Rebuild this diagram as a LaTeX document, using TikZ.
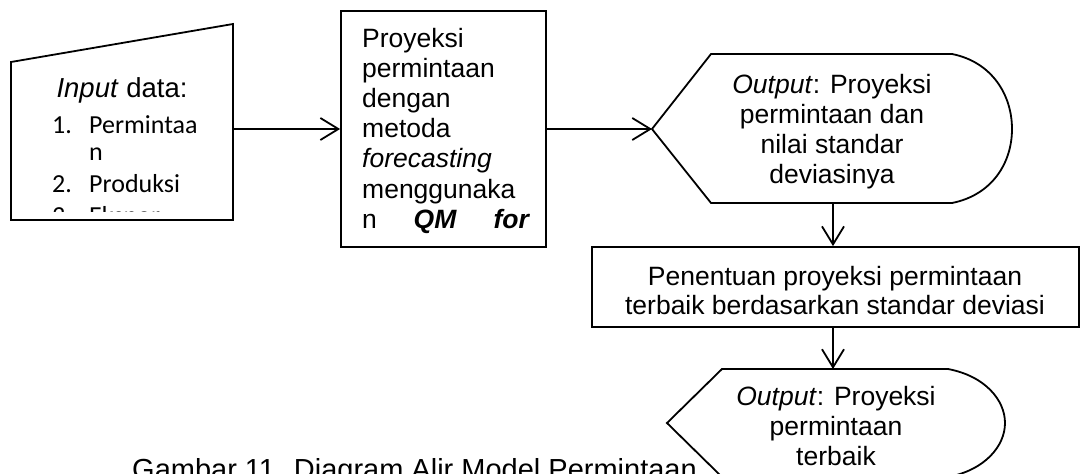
\documentclass[tikz,border=0pt]{standalone}
\usepackage{fontspec}
\setmainfont{Liberation Sans}
\newfontfamily\calibri{Carlito}
\usetikzlibrary{arrows.meta}
\begin{document}
\begin{tikzpicture}[x=1pt,y=-1pt,
  shapeline/.style={draw=black,line width=1.8pt,line join=miter},
  procbox/.style={draw=black,line width=1.8pt,rectangle,inner sep=0pt},
  flow/.style={line width=1.8pt,-{Straight Barb[length=18pt,width=22pt,line width=1.8pt]}},
  txt/.style={inner sep=0pt,font=\fontsize{26.5}{30}\selectfont},
  itm/.style={inner sep=0pt,anchor=base west,font=\calibri\fontsize{26}{31}\selectfont}]
\useasboundingbox (0,0) rectangle (1080,474);
\clip (0,0) rectangle (1080,474);

% manual input: data sources
\draw[shapeline] (11,62) -- (233,24) -- (233,220) -- (11,220) -- cycle;
\coordinate (in-e) at (233,129);
\node[txt,anchor=base,font=\fontsize{27.5}{30}\selectfont] (inhead) at (122,97) {\textit{Input} data:};
\begin{scope}
  \clip (11,0) rectangle (233,211);
  \node[itm] (n1) at (52,133) {1.};
  \node[itm] (i1) at (89,133) {Permintaa};
  \node[itm] (i1b) at (89,160) {n};
  \node[itm] (n2) at (52,192) {2.};
  \node[itm] (i2) at (89,192) {Produksi};
  \node[itm] (n3) at (52,224) {3.};
  \node[itm] (i3) at (89,224) {Ekspor};
\end{scope}

% forecasting process
\node[procbox,minimum width=205pt,minimum height=236pt] (proc1) at (443.5,129) {};
\foreach \t [count=\k from 0] in {Proyeksi,permintaan,dengan,metoda,\textit{forecasting},menggunaka}
  \node[txt,anchor=base west] (p1l\k) at (362,47+30.2*\k) {\t};
\node[txt,anchor=base west] (p1l6) at (362,228)
  {\makebox[168pt][l]{n\hfill\textbf{\textit{QM}}\hfill\textbf{\textit{for}}}};

% display: projection and standard deviation
\draw[shapeline] (652,129) -- (711,54) -- (952,54)
  .. controls (992,62) and (1012,95) .. (1012,129)
  .. controls (1012,163) and (992,195) .. (952,203) -- (711,203) -- cycle;
\coordinate (out1-w) at (652,129);
\coordinate (out1-s) at (833,203);
\node[txt,anchor=base] (o1a) at (832,93) {\textit{Output}: Proyeksi};
\node[txt,anchor=base] (o1b) at (832,123) {permintaan dan};
\node[txt,anchor=base] (o1c) at (832,153) {nilai standar};
\node[txt,anchor=base] (o1d) at (832,183) {deviasinya};

% selection process
\node[procbox,minimum width=487pt,minimum height=80pt] (proc2) at (835.5,287) {};
\node[txt,anchor=base] (p2a) at (835,285) {Penentuan proyeksi permintaan};
\node[txt,anchor=base] (p2b) at (835,314) {terbaik berdasarkan standar deviasi};

% display: best projection
\draw[shapeline] (667,423) -- (722,369) -- (948,369)
  .. controls (985,376) and (1005,400) .. (1005,423)
  .. controls (1005,446) and (985,470) .. (948,477) -- (722,477) -- cycle;
\coordinate (out2-n) at (833,369);
\node[txt,anchor=base] (o2a) at (836,405) {\textit{Output}: Proyeksi};
\node[txt,anchor=base] (o2b) at (836,435) {permintaan};
\node[txt,anchor=base] (o2c) at (836,465) {terbaik};

% connectors
\draw[flow] (in-e) -- (proc1.west |- in-e);
\draw[flow] (proc1.east |- out1-w) -- (out1-w);
\draw[flow] (out1-s) -- (proc2.north -| out1-s);
\draw[flow] (proc2.south -| out1-s) -- (out2-n);

% caption
\node[inner sep=0pt,anchor=base west,font=\fontsize{29}{32}\selectfont] (cap) at (132,479)
  {Gambar 11. Diagram Alir Model Permintaan};
\end{tikzpicture}
\end{document}
